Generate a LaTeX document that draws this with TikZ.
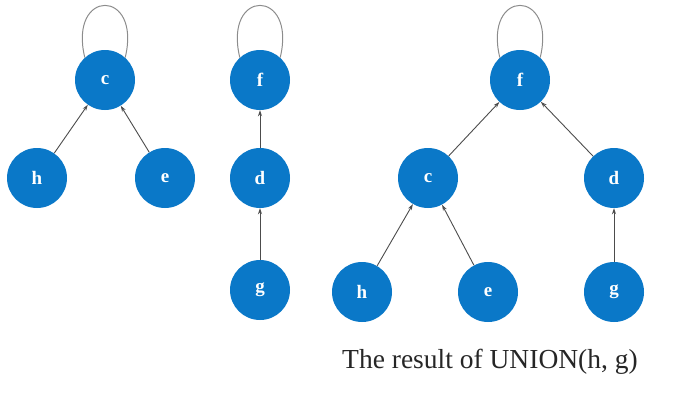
\documentclass[tikz,border=0pt]{standalone}
\usepackage{fontspec}
\setmainfont{Liberation Serif}
\usepackage{xcolor}
\usetikzlibrary{arrows.meta}
\definecolor{setblue}{HTML}{0A78C8}
\tikzset{
	elem/.style={circle, fill=setblue, minimum size=60pt, inner sep=0pt,
		text=white, font=\fontsize{19}{19}\selectfont\bfseries},
	parent/.style={draw=black!70, line width=0.9pt, -{Stealth[length=6pt,width=4pt]}},
	selfloop/.style={draw=black!45, line width=1pt}
}

\begin{document}
\begin{tikzpicture}[x=1pt,y=-1pt]
		\useasboundingbox (0,0) rectangle (676,405);

		%% Tree rooted at c
		\node[elem] (c) at (105,80) {c};
		\node[elem] (h) at (37,178) {h};
		\node[elem] (e) at (165,178) {e};
		\draw[parent] (h) -- (c);
		\draw[parent] (e) -- (c);
		\draw[selfloop] (c.132) .. controls (68,-12) and (142,-12) .. (c.48);

		%% Tree rooted at f
		\node[elem] (f) at (260,80) {f};
		\node[elem] (d) at (260,178) {d};
		\node[elem] (g) at (260,290) {g};
		\draw[parent] (d) -- (f);
		\draw[parent] (g) -- (d);
		\draw[selfloop] (f.132) .. controls (223,-12) and (297,-12) .. (f.48);

		%% After the union: c hangs below f
		\node[elem] (uf) at (520,80) {f};
		\node[elem] (uc) at (428,178) {c};
		\node[elem] (ud) at (614,178) {d};
		\node[elem] (uh) at (362,292) {h};
		\node[elem] (ue) at (488,292) {e};
		\node[elem] (ug) at (614,292) {g};
		\draw[parent] (uc) -- (uf);
		\draw[parent] (ud) -- (uf);
		\draw[parent] (uh) -- (uc);
		\draw[parent] (ue) -- (uc);
		\draw[parent] (ug) -- (ud);
		\draw[selfloop] (uf.132) .. controls (483,-12) and (557,-12) .. (uf.48);

		% Caption
		\node[font=\fontsize{27.5}{27.5}\selectfont, text=black!85] (caption) at (490,362) {The result of UNION(h, g)};
	\end{tikzpicture}
\end{document}
